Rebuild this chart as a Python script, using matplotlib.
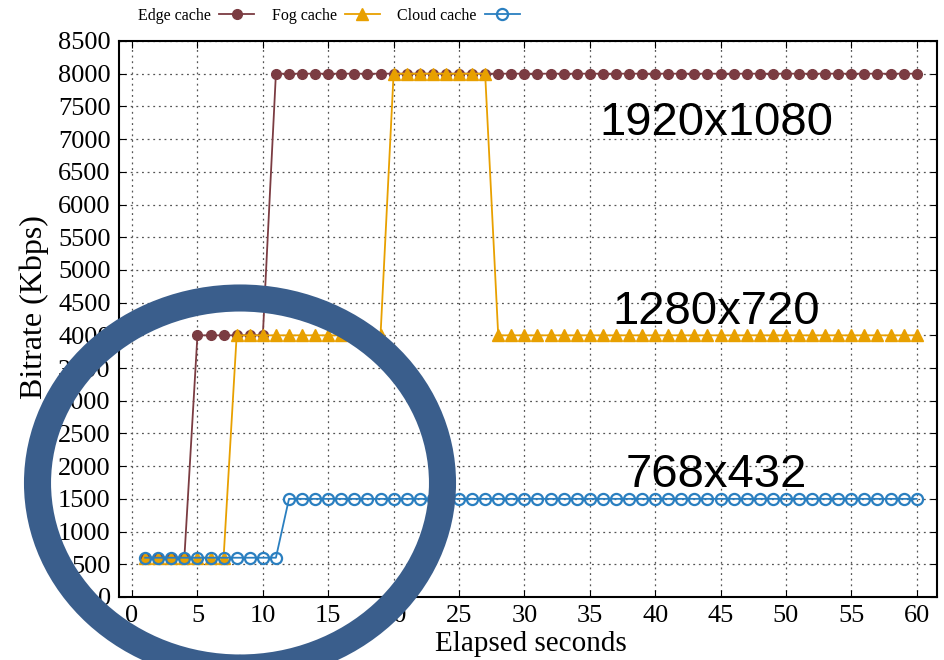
import matplotlib
matplotlib.use('Agg')
import matplotlib.pyplot as plt
from matplotlib.patches import Ellipse

# data
seconds = list(range(1, 61))
edge = [600] * 4 + [4000] * 6 + [8000] * 50
fog = [600] * 7 + [4000] * 12 + [8000] * 8 + [4000] * 33
cloud = [600] * 11 + [1500] * 49

res_labels = ['1920x1080', '1280x720', '768x432']
res_x = [44.7, 44.7, 44.7]
res_y = [7240, 4360, 1860]

plt.rcParams['font.family'] = ['Liberation Serif', 'DejaVu Serif']

fig = plt.figure(figsize=(9.45, 6.6), dpi=100)
ax = fig.add_axes([0.1259, 0.0955, 0.8656, 0.8424])

ax.plot(seconds, edge, color='#7b3c42', lw=1.3, marker='o', ms=7, label='Edge cache')
ax.plot(seconds, fog, color='#e8a000', lw=1.3, marker='^', ms=8.5, label='Fog cache')
ax.plot(seconds, cloud, color='#2a7fc0', lw=1.3, marker='o', ms=8,
        mfc='none', mew=1.6, label='Cloud cache')

for t, x, y in zip(res_labels, res_x, res_y):
    ax.text(x, y, t, fontsize=34, family=['Liberation Sans', 'DejaVu Sans'],
            ha='center', va='center')

ax.set_xlim(-1, 61.55)
ax.set_ylim(0, 8500)
ax.set_xticks(range(0, 61, 5))
ax.set_yticks(range(0, 8501, 500))
ax.tick_params(direction='in', top=True, right=True, labelsize=19, length=5, pad=6)
ax.grid(True, ls=(0, (1.5, 3)), color='#555555', lw=0.9)
for s in ax.spines.values():
    s.set_linewidth(1.5)

ax.set_xlabel('Elapsed seconds', fontsize=21)
ax.set_ylabel('Bitrate (Kbps)', fontsize=23)
ax.xaxis.set_label_coords(0.5037, -0.062)
ax.yaxis.set_label_coords(-0.086, 0.522)

fig.legend(loc='center', bbox_to_anchor=(329 / 945, 1 - 16 / 660), ncol=3,
           frameon=False, markerfirst=False, fontsize=11.5, handlelength=2.2,
           columnspacing=1.1, handletextpad=0.5)

# overlay ring
ring = Ellipse((240 / 945, 1 - 483 / 660), 405 / 945, 370 / 660,
               transform=fig.transFigure, fill=False, edgecolor='#3a5e8c',
               lw=19.5, zorder=10)
fig.add_artist(ring)

plt.savefig('out.png', dpi=100)
